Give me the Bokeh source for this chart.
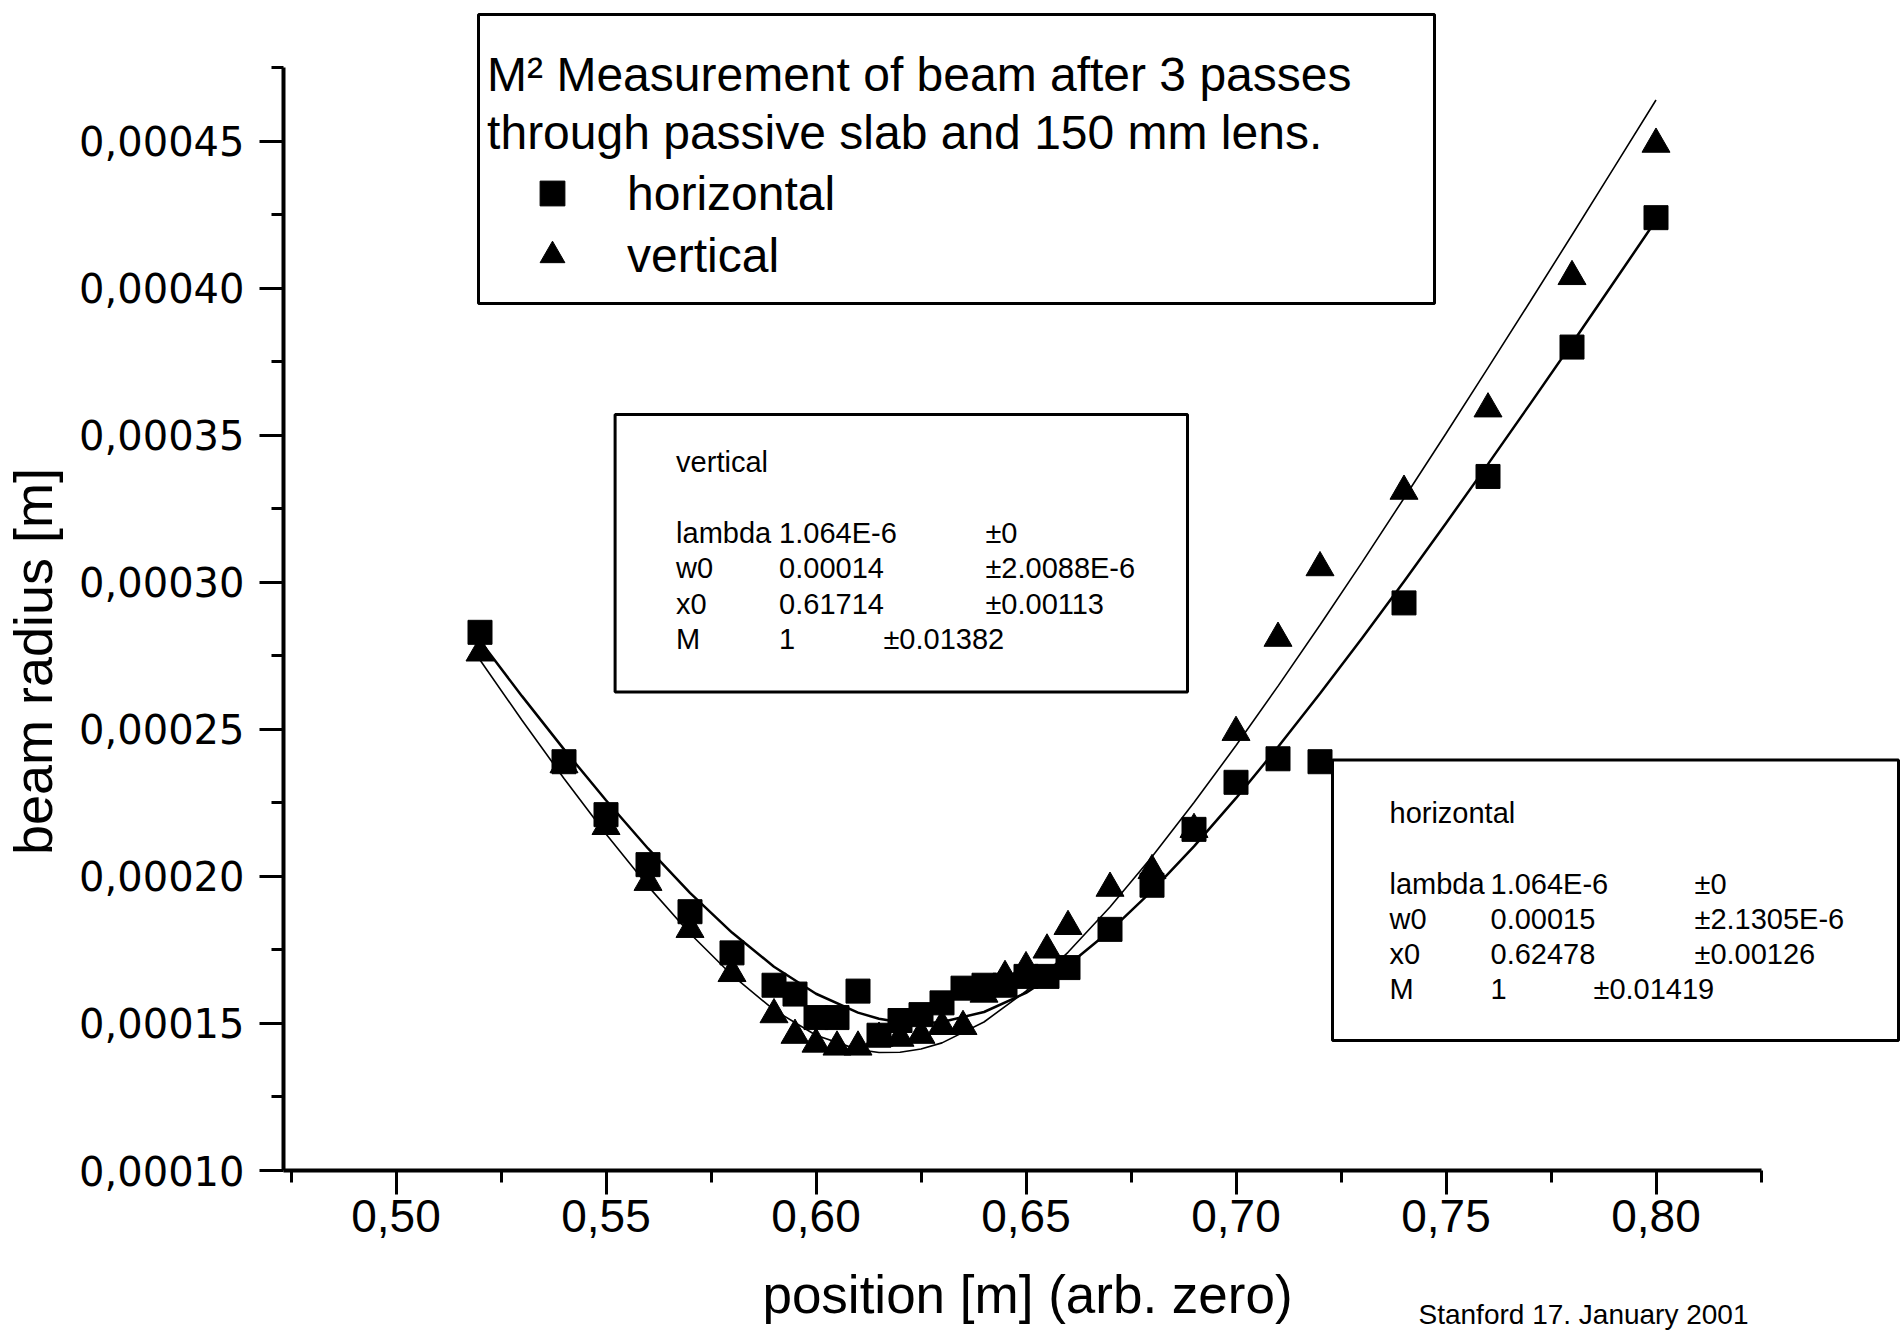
import math
from bokeh.plotting import figure
from bokeh.models import Range1d, FixedTicker, BoxAnnotation, Label, Legend, LegendItem
from bokeh.embed import file_html
from bokeh.resources import INLINE

# ---------------- data ----------------
pos_horizontal = [0.52, 0.54, 0.55, 0.56, 0.57, 0.58, 0.59, 0.595, 0.60, 0.605, 0.61, 0.615,
                  0.62, 0.625, 0.63, 0.635, 0.64, 0.645, 0.65, 0.655, 0.66, 0.67, 0.68, 0.69,
                  0.70, 0.71, 0.72, 0.74, 0.76, 0.78, 0.80]
radius_horizontal = [0.000283, 0.000239, 0.000221, 0.000204, 0.000188, 0.000174, 0.000163, 0.000160,
                     0.000152, 0.000152, 0.000161, 0.000146, 0.000151, 0.000153, 0.000157, 0.000162,
                     0.000163, 0.000163, 0.000166, 0.000166, 0.000169, 0.000182, 0.000197, 0.000216,
                     0.000232, 0.000240, 0.000239, 0.000293, 0.000336, 0.000380, 0.000424]

pos_vertical = [0.52, 0.54, 0.55, 0.56, 0.57, 0.58, 0.59, 0.595, 0.60, 0.605, 0.61, 0.615,
                0.62, 0.625, 0.63, 0.635, 0.64, 0.645, 0.65, 0.655, 0.66, 0.67, 0.68, 0.69,
                0.70, 0.71, 0.72, 0.74, 0.76, 0.78, 0.80]
radius_vertical = [0.000276, 0.000238, 0.000217, 0.000198, 0.000182, 0.000167, 0.000153, 0.000146,
                   0.000143, 0.000142, 0.000142, 0.000145, 0.000145, 0.000146, 0.000149, 0.000149,
                   0.000160, 0.000166, 0.000169, 0.000175, 0.000183, 0.000196, 0.000202, 0.000216,
                   0.000249, 0.000281, 0.000305, 0.000331, 0.000359, 0.000404, 0.000449]

# fitted curves
fit_pos = [0.52, 0.53, 0.54, 0.55, 0.56, 0.57, 0.58, 0.59, 0.60, 0.61, 0.615, 0.62, 0.625,
           0.63, 0.64, 0.65, 0.66, 0.67, 0.68, 0.69, 0.70, 0.71, 0.72, 0.73, 0.74, 0.75,
           0.76, 0.77, 0.78, 0.79, 0.80]
fit_horizontal = [2.801e-4, 2.613e-4, 2.432e-4, 2.259e-4, 2.095e-4, 1.944e-4, 1.809e-4, 1.693e-4,
                  1.601e-4, 1.537e-4, 1.516e-4, 1.504e-4, 1.500e-4, 1.505e-4, 1.539e-4, 1.604e-4,
                  1.698e-4, 1.815e-4, 1.951e-4, 2.102e-4, 2.266e-4, 2.440e-4, 2.622e-4, 2.810e-4,
                  3.003e-4, 3.201e-4, 3.402e-4, 3.606e-4, 3.812e-4, 4.021e-4, 4.231e-4]
fit_vertical = [2.736e-4, 2.531e-4, 2.333e-4, 2.144e-4, 1.967e-4, 1.806e-4, 1.664e-4, 1.546e-4,
                1.460e-4, 1.411e-4, 1.401e-4, 1.402e-4, 1.413e-4, 1.434e-4, 1.505e-4, 1.610e-4,
                1.742e-4, 1.896e-4, 2.067e-4, 2.251e-4, 2.445e-4, 2.647e-4, 2.855e-4, 3.068e-4,
                3.286e-4, 3.506e-4, 3.729e-4, 3.954e-4, 4.181e-4, 4.410e-4, 4.640e-4]

x_ticks = [0.50, 0.55, 0.60, 0.65, 0.70, 0.75, 0.80]
x_tick_labels = ["0,50", "0,55", "0,60", "0,65", "0,70", "0,75", "0,80"]
x_minor_ticks = [0.475, 0.525, 0.575, 0.625, 0.675, 0.725, 0.775, 0.825]
y_ticks = [0.00010, 0.00015, 0.00020, 0.00025, 0.00030, 0.00035, 0.00040, 0.00045]
y_tick_labels = ["0,00010", "0,00015", "0,00020", "0,00025", "0,00030", "0,00035", "0,00040", "0,00045"]
y_minor_ticks = [0.000125, 0.000175, 0.000225, 0.000275, 0.000325, 0.000375, 0.000425, 0.000475]

x_title = "position [m] (arb. zero)"
y_title = "beam radius [m]"
title_lines = ["M\u00b2 Measurement of beam after 3 passes", "through passive slab and 150 mm lens."]
series_names = ["horizontal", "vertical"]
fit_rows_vertical = [["lambda", "1.064E-6", "\u00b10"], ["w0", "0.00014", "\u00b12.0088E-6"],
                     ["x0", "0.61714", "\u00b10.00113"], ["M", "1", "\u00b10.01382"]]
fit_rows_horizontal = [["lambda", "1.064E-6", "\u00b10"], ["w0", "0.00015", "\u00b12.1305E-6"],
                       ["x0", "0.62478", "\u00b10.00126"], ["M", "1", "\u00b10.01419"]]
footer_text = "Stanford 17. January 2001"

# ---------------- layout helpers (canvas pixels -> data) ----------------
XA, XA_PX, XB, XB_PX = 0.50, 395.5, 0.80, 1655.5
YA, YA_PX, YB, YB_PX = 0.0001, 1170, 0.00045, 140.7
W, H = 1902, 1331
AXIS_LEFT_PX = 283
X_END, Y_END = 0.825, 0.000475


def dx(px):
    return XA + (px - XA_PX) * (XB - XA) / (XB_PX - XA_PX)


def dy(py):
    return YA + (YA_PX - py) * (YB - YA) / (YA_PX - YB_PX)


# the frame covers the whole canvas; the axes are pinned at the chart's own origin
p = figure(width=W, height=H, output_backend="svg", toolbar_location=None,
           x_range=Range1d(dx(0), dx(W)), y_range=Range1d(dy(H), dy(0)),
           min_border=0, min_border_left=0, min_border_right=0, min_border_top=0,
           min_border_bottom=0)
p.outline_line_color = None
p.xgrid.visible = False
p.ygrid.visible = False
p.background_fill_color = "white"
p.border_fill_color = "white"

X_LO = dx(AXIS_LEFT_PX)

# ---------------- axes ----------------
for ax in (p.xaxis[0], p.yaxis[0]):
    ax.axis_line_width = 4
    ax.axis_line_color = "black"
    ax.major_tick_line_width = 3
    ax.minor_tick_line_width = 3
    ax.major_tick_line_color = "black"
    ax.minor_tick_line_color = "black"
    ax.major_tick_out = 24
    ax.major_tick_in = 0
    ax.minor_tick_out = 12
    ax.minor_tick_in = 0
    ax.major_label_text_color = "black"

p.xaxis.fixed_location = YA
p.yaxis.fixed_location = X_LO
p.xaxis.bounds = (X_LO, X_END)
p.yaxis.bounds = (YA, Y_END)
p.xaxis.ticker = FixedTicker(ticks=x_ticks, minor_ticks=x_minor_ticks)
p.yaxis.ticker = FixedTicker(ticks=y_ticks, minor_ticks=y_minor_ticks)
p.xaxis.major_label_overrides = dict(zip(x_ticks, x_tick_labels))
p.yaxis.major_label_overrides = dict(zip(y_ticks, y_tick_labels))
p.xaxis.major_label_text_font = "Liberation Sans"
p.xaxis.major_label_text_font_size = "46px"
p.xaxis.major_label_standoff = 5
p.yaxis.major_label_text_font = "DejaVu Sans"
p.yaxis.major_label_text_font_size = "40px"
p.yaxis.major_label_standoff = 15

# axis titles placed like the original (centred on the drawn axis)
p.add_layout(Label(x=dx(1027), y=dy(1294), text=x_title,
                   text_font="Liberation Sans", text_font_size="53px", text_color="black",
                   text_align="center", text_baseline="middle"))
p.add_layout(Label(x=dx(32), y=dy(661), text=y_title,
                   text_font="Liberation Sans", text_font_size="54px", text_color="black",
                   text_align="center", text_baseline="middle", angle=math.pi / 2))

# ---------------- fit curves and data ----------------
p.line(fit_pos, fit_horizontal, line_color="black", line_width=2.5)
p.line(fit_pos, fit_vertical, line_color="black", line_width=1.6)
r_h = p.scatter(pos_horizontal, radius_horizontal, marker="square", size=24,
                fill_color="black", line_color="black")
r_v = p.scatter(pos_vertical, radius_vertical, marker="triangle", size=28,
                fill_color="black", line_color="black")

# ---------------- legend box ----------------
p.add_layout(BoxAnnotation(left=dx(478), right=dx(1434), top=dy(14), bottom=dy(303),
                           fill_color=None, fill_alpha=0, line_color="black",
                           line_alpha=1.0, line_width=3))
for i, line in enumerate(title_lines):
    p.add_layout(Label(x=dx(486.6), y=dy(73.7 + 58.3 * i), text=line, text_font="Liberation Sans",
                       text_font_size="48px", text_color="black", text_baseline="alphabetic"))

legend = Legend(items=[LegendItem(label=series_names[0], renderers=[r_h]),
                       LegendItem(label=series_names[1], renderers=[r_v])],
                location=(519, H - 286), orientation="vertical",
                border_line_color=None, background_fill_alpha=0,
                label_text_font="Liberation Sans", label_text_font_size="48px",
                label_text_color="black",
                glyph_width=66, glyph_height=62, label_height=62, label_standoff=42,
                spacing=-3, padding=0, margin=0)
p.add_layout(legend)


# ---------------- fit parameter boxes ----------------
def param_box(left, top, right, bottom, name, rows, name_y, row_y0, pitch, cols, m_err_x):
    p.add_layout(BoxAnnotation(left=dx(left), right=dx(right), top=dy(top), bottom=dy(bottom),
                               fill_color=None, fill_alpha=0, line_color="black",
                               line_alpha=1.0, line_width=3))
    p.add_layout(Label(x=dx(cols[0]), y=dy(name_y), text=name, text_font="Liberation Sans",
                       text_font_size="29px", text_color="black", text_baseline="alphabetic"))
    for i, row in enumerate(rows):
        yy = dy(row_y0 + pitch * i)
        xs = [cols[0], cols[1], m_err_x if row[0] == "M" else cols[2]]
        for xx, t in zip(xs, row):
            p.add_layout(Label(x=dx(xx), y=yy, text=t, text_font="Liberation Sans",
                               text_font_size="29px", text_color="black",
                               text_baseline="alphabetic"))


param_box(614.6, 413.9, 1187, 691.5, series_names[1], fit_rows_vertical, 461.6, 532.4, 35.5,
          (675.6, 778.6, 984.9), 882.9)
param_box(1332, 759.6, 1898, 1040, series_names[0], fit_rows_horizontal, 812.4, 883.4, 35,
          (1389, 1490, 1694), 1593)

# footer note at the bottom right
p.add_layout(Label(x=dx(1418), y=dy(1329), text=footer_text,
                   text_font="Liberation Sans", text_font_size="28px", text_color="black",
                   text_baseline="bottom"))

open("out.html", "w").write(file_html(p, INLINE))
